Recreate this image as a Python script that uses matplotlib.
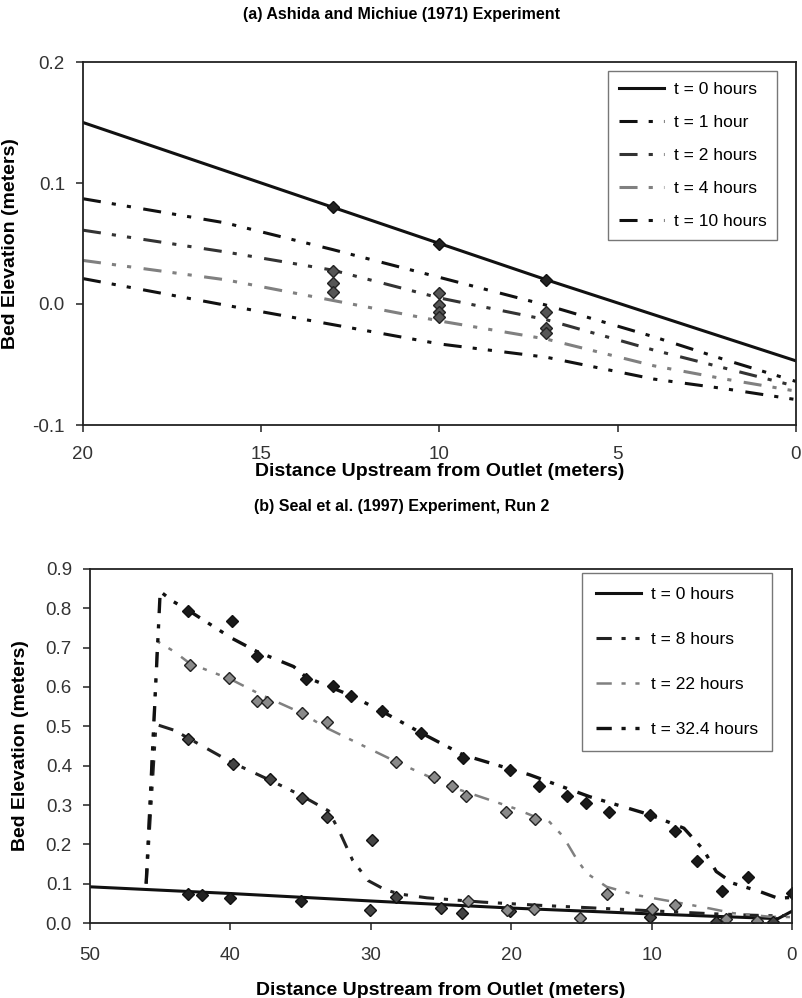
import matplotlib
matplotlib.use("Agg")
import matplotlib.pyplot as plt
from matplotlib import font_manager
from matplotlib.ticker import FormatStrFormatter, MultipleLocator

plt.rcParams['font.family'] = ['Liberation Sans', 'DejaVu Sans']
plt.rcParams['axes.unicode_minus'] = False
plt.rcParams['lines.scale_dashes'] = False

names = {f.name for f in font_manager.fontManager.ttflist}
narrow = 'Liberation Sans Narrow' if 'Liberation Sans Narrow' in names else 'Liberation Sans'

# (a) Ashida and Michiue (1971) -- model profiles
xa = [20, 16, 13, 10, 7, 4, 2, 0]
a_t0_x = [20, 13, 10, 7, 0]
a_t0 = [0.150, 0.080, 0.050, 0.020, -0.047]
a_t1 = [0.087, 0.067, 0.045, 0.022, -0.001, -0.027, -0.046, -0.064]
a_t2 = [0.061, 0.043, 0.028, 0.005, -0.013, -0.038, -0.053, -0.068]
a_t4 = [0.036, 0.020, 0.003, -0.014, -0.029, -0.051, -0.062, -0.072]
a_t10 = [0.021, -0.001, -0.017, -0.033, -0.044, -0.062, -0.070, -0.079]

# (a) measured bed elevations
a_obs0_x = [13, 10, 7]
a_obs0 = [0.080, 0.050, 0.020]
a_obs_x = [13, 13, 13, 10, 10, 10, 10, 7, 7, 7]
a_obs = [0.027, 0.017, 0.010, 0.009, -0.001, -0.007, -0.011, -0.007, -0.020, -0.024]

# (b) Seal et al. (1997) Run 2 -- model profiles
b_t0_x = [50, 40, 30, 20, 10, 1, 0]
b_t0 = [0.092, 0.075, 0.056, 0.038, 0.023, 0.011, 0.030]
b_t8_x = [46, 45.3, 44, 43, 40, 37, 35, 33, 32.2, 31.3, 30.2, 29, 28, 26, 22, 18, 14, 10, 6, 3, 1, 0]
b_t8 = [0.10, 0.505, 0.49, 0.47, 0.41, 0.36, 0.325, 0.285, 0.23, 0.16, 0.108, 0.085, 0.074, 0.064,
        0.053, 0.045, 0.038, 0.031, 0.024, 0.020, 0.018, 0.020]
b_t22_x = [46, 45.2, 44, 42.9, 40, 37.8, 35, 33.1, 28.2, 24.2, 19.8, 18.3, 17.4, 16.3, 15.3, 14.6,
           13.2, 11.1, 8.45, 5.85, 4.2, 1.6, 0]
b_t22 = [0.10, 0.716, 0.69, 0.66, 0.62, 0.58, 0.535, 0.495, 0.41, 0.345, 0.292, 0.27, 0.262, 0.22,
         0.16, 0.126, 0.092, 0.071, 0.054, 0.037, 0.025, 0.016, 0.015]
b_t32_x = [46, 45.0, 44.1, 43, 39.9, 38.1, 35.5, 34.6, 31.4, 29.2, 26.4, 23.4, 18.7, 14.4, 10.1,
           7.7, 6.3, 5.4, 4.2, 2.3, 1.0, 0]
b_t32 = [0.10, 0.843, 0.818, 0.795, 0.724, 0.69, 0.652, 0.625, 0.578, 0.538, 0.483, 0.427, 0.377,
         0.321, 0.275, 0.241, 0.186, 0.131, 0.101, 0.080, 0.063, 0.065]

# (b) measured bed elevations
b_obs0_x = [43, 42, 40, 35]
b_obs0 = [0.075, 0.070, 0.063, 0.057]
b_obs8_x = [43, 39.8, 37.2, 34.9, 33.1, 29.9, 30.05, 28.2, 25, 23.5, 20.1, 10.1, 5.4, 1.35]
b_obs8 = [0.468, 0.404, 0.366, 0.319, 0.269, 0.211, 0.033, 0.065, 0.037, 0.025, 0.031, 0.014, 0.002, 0.002]
b_obs22_x = [42.9, 40.1, 38.1, 37.4, 34.9, 33.1, 28.2, 25.5, 24.2, 23.2, 20.4, 18.3, 13.2, 8.3,
             23.1, 20.3, 18.4, 15.1, 10, 4.7, 2.5]
b_obs22 = [0.656, 0.623, 0.565, 0.561, 0.534, 0.511, 0.410, 0.371, 0.349, 0.323, 0.282, 0.265, 0.074, 0.047,
           0.056, 0.033, 0.036, 0.013, 0.036, 0.011, 0.006]
b_obs32_x = [43, 39.9, 38.1, 34.6, 32.7, 31.4, 29.2, 26.4, 23.4, 20.1, 18, 16.05, 14.7, 13.05, 10.1,
             8.3, 6.75, 5.0, 3.1, 0.03]
b_obs32 = [0.792, 0.768, 0.678, 0.621, 0.603, 0.578, 0.538, 0.483, 0.419, 0.389, 0.349, 0.323, 0.306,
           0.282, 0.275, 0.234, 0.158, 0.082, 0.116, 0.076]

# long dash - dot - dot, in points
ddot = (0, (13, 8, 3, 8, 3, 9))
ddot_b = (0, (11, 7, 3, 7, 3, 8))

fig = plt.figure(figsize=(8.03, 9.98), dpi=100)


def style_axes(ax, xpad):
    for s in ax.spines.values():
        s.set_linewidth(1.3)
        s.set_color('#222222')
    ax.tick_params(direction='out', length=5, width=1.1, labelsize=13.5, colors='#222222',
                   labelcolor='#333333')
    ax.tick_params(axis='y', pad=8)
    ax.tick_params(axis='x', pad=xpad)


# ---- panel (a)
ax1 = fig.add_axes([83 / 803, 1 - 425 / 998, 713 / 803, 363 / 998])
ax1.plot(a_t0_x, a_t0, color='#111111', lw=2.2, label='t = 0 hours')
ax1.plot(xa, a_t1, color='#111111', lw=2.2, linestyle=ddot, label='t = 1 hour')
ax1.plot(xa, a_t2, color='#333333', lw=2.2, linestyle=ddot, label='t = 2 hours')
ax1.plot(xa, a_t4, color='#808080', lw=2.2, linestyle=ddot, label='t = 4 hours')
ax1.plot(xa, a_t10, color='#111111', lw=2.2, linestyle=ddot, label='t = 10 hours')
ax1.plot(a_obs0_x, a_obs0, 'D', ms=6, color='#222222', mec='#111111')
ax1.plot(a_obs_x, a_obs, 'D', ms=6, color='#555555', mec='#222222')
ax1.set_xlim(20, 0)
ax1.set_ylim(-0.1, 0.2)
ax1.xaxis.set_major_locator(MultipleLocator(5))
ax1.yaxis.set_major_locator(MultipleLocator(0.1))
ax1.yaxis.set_major_formatter(FormatStrFormatter('%.1f'))
style_axes(ax1, 10)
ax1.set_xlabel('Distance Upstream from Outlet (meters)', fontsize=14, fontweight='bold',
               family=narrow, labelpad=0)
ax1.set_ylabel('Bed Elevation (meters)', fontsize=14, fontweight='bold', labelpad=10)
leg1 = ax1.legend(loc='upper right', bbox_to_anchor=(0.974, 0.974), fontsize=12.5, frameon=True,
                  fancybox=False, edgecolor='#555555', handlelength=2.6, handletextpad=0.6,
                  labelspacing=1.03, borderpad=0.6, borderaxespad=0)
leg1.get_frame().set_linewidth(1.0)
fig.text(0.5, 1 - 15 / 998, '(a) Ashida and Michiue (1971) Experiment', ha='center', va='center',
         fontsize=11.5, fontweight='bold', family=narrow)

# ---- panel (b)
ax2 = fig.add_axes([90 / 803, 1 - 923 / 998, 702 / 803, 354 / 998])
ax2.plot(b_t0_x, b_t0, color='#111111', lw=2.2, label='t = 0 hours')
ax2.plot(b_t8_x, b_t8, color='#222222', lw=2.2, linestyle=ddot_b, label='t = 8 hours')
ax2.plot(b_t22_x, b_t22, color='#808080', lw=1.8, linestyle=ddot_b, label='t = 22 hours')
ax2.plot(b_t32_x, b_t32, color='#111111', lw=2.4, linestyle=ddot_b, label='t = 32.4 hours')
ax2.plot(b_obs0_x, b_obs0, 'D', ms=6, color='#222222', mec='#111111')
ax2.plot(b_obs8_x, b_obs8, 'D', ms=6, color='#444444', mec='#111111')
ax2.plot(b_obs22_x, b_obs22, 'D', ms=6, color='#8a8a8a', mec='#222222')
ax2.plot(b_obs32_x, b_obs32, 'D', ms=6, color='#1a1a1a', mec='#111111')
ax2.set_xlim(50, 0)
ax2.set_ylim(0, 0.9)
ax2.xaxis.set_major_locator(MultipleLocator(10))
ax2.yaxis.set_major_locator(MultipleLocator(0.1))
ax2.yaxis.set_major_formatter(FormatStrFormatter('%.1f'))
style_axes(ax2, 12)
ax2.set_xlabel('Distance Upstream from Outlet (meters)', fontsize=14, fontweight='bold', labelpad=13)
ax2.set_ylabel('Bed Elevation (meters)', fontsize=14, fontweight='bold', labelpad=12)
leg2 = ax2.legend(loc='upper right', bbox_to_anchor=(0.972, 0.988), fontsize=12.5, frameon=True,
                  fancybox=False, edgecolor='#555555', handlelength=2.6, handletextpad=0.6,
                  labelspacing=1.72, borderpad=0.8, borderaxespad=0)
leg2.get_frame().set_linewidth(1.0)
fig.text(0.5, 1 - 507 / 998, '(b) Seal et al. (1997) Experiment, Run 2', ha='center', va='center',
         fontsize=11.5, fontweight='bold', family=narrow)

fig.savefig('out.png', dpi=100, facecolor='white')
